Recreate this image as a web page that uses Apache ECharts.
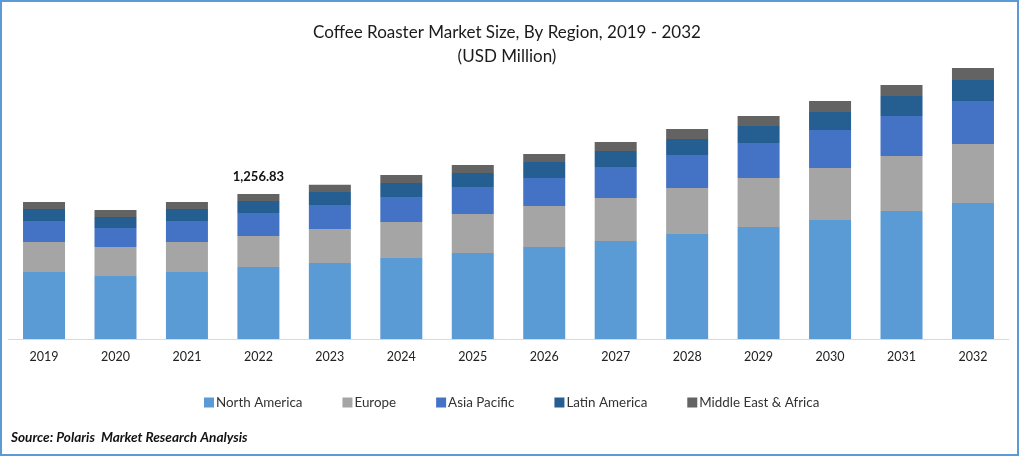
<!DOCTYPE html>
<html>
<head>
<meta charset="utf-8">
<title>Coffee Roaster Market Size</title>
<script src="https://cdn.jsdelivr.net/npm/echarts@6/dist/echarts.min.js"></script>
<style>
html, body { margin: 0; padding: 0; background: #fff; }
#chart { width: 1019px; height: 456px; }
#frame { position: absolute; left: 0; top: 0; width: 1019px; height: 456px; box-sizing: border-box; border: 2px solid #5b9bd5; pointer-events: none; }
</style>
</head>
<body>
<div id="chart"></div>
<div id="frame"></div>
<script>
var years = ["2019", "2020", "2021", "2022", "2023", "2024", "2025", "2026", "2027", "2028", "2029", "2030", "2031", "2032"];
var northAmerica = [581, 546, 581, 624, 659, 702, 745, 797, 849, 910, 971, 1031, 1109, 1179];
var europe = [260, 251, 260, 269, 295, 312, 338, 355, 373, 399, 425, 451, 477, 511];
var asiaPacific = [182, 165, 182, 199, 208, 217, 234, 243, 269, 286, 303, 329, 347, 373];
var latinAmerica = [104, 95, 104, 104, 113, 121, 121, 139, 139, 139, 147, 156, 173, 182];
var middleEast = [61, 61, 61, 61, 61, 69, 69, 69, 78, 87, 87, 95, 95, 104];
var labelYear = "2022";
var labelText = "1,256.83";

var font = "Lato";

function makeSeries(name, values, color) {
	return {
		name: name,
		type: "bar",
		stack: "total",
		barWidth: 42,
		data: values,
		itemStyle: { color: color },
		animation: false
	};
}

var last = makeSeries("Middle East & Africa", middleEast, "#636363");
// only 2022 carries the total on top
last.label = {
	show: true,
	position: "top",
	distance: 11,
	color: "#111",
	fontFamily: font,
	fontSize: 13,
	fontWeight: "bold",
	formatter: function(p) {
		return p.name == labelYear ? labelText : "";
	}
};

var chart = echarts.init(document.getElementById("chart"));
chart.setOption({
	animation: false,
	title: [{
		text: "Coffee Roaster Market Size, By Region, 2019 - 2032\n(USD Million)",
		left: 502,
		top: 16,
		textAlign: "center",
		textStyle: { fontFamily: font, fontSize: 17, fontWeight: "normal", color: "#1a1a1a", lineHeight: 24 }
	}, {
		text: "Source: Polaris  Market Research Analysis",
		left: 6,
		top: 426,
		textStyle: { fontFamily: font, fontSize: 13.6, fontWeight: "bold", fontStyle: "italic", color: "#111" }
	}],
	legend: {
		left: 199,
		top: 391,
		itemWidth: 10,
		itemHeight: 10,
		itemGap: 40,
		icon: "rect",
		textStyle: { fontFamily: font, fontSize: 13.4, color: "#333", padding: [0, 0, 0, -3] },
		data: ["North America", "Europe", "Asia Pacific", "Latin America", "Middle East & Africa"]
	},
	grid: { left: 8.3, right: 10.3, top: 39, bottom: 117 },
	xAxis: {
		type: "category",
		data: years,
		axisTick: { show: false },
		axisLine: { lineStyle: { color: "#d9d9d9", width: 1 } },
		axisLabel: { fontFamily: font, fontSize: 12.5, color: "#222", margin: 11 }
	},
	yAxis: { type: "value", min: 0, max: 2600, show: false },
	series: [
		makeSeries("North America", northAmerica, "#5b9bd5"),
		makeSeries("Europe", europe, "#a5a5a5"),
		makeSeries("Asia Pacific", asiaPacific, "#4472c4"),
		makeSeries("Latin America", latinAmerica, "#255e91"),
		last
	]
});
</script>
</body>
</html>
